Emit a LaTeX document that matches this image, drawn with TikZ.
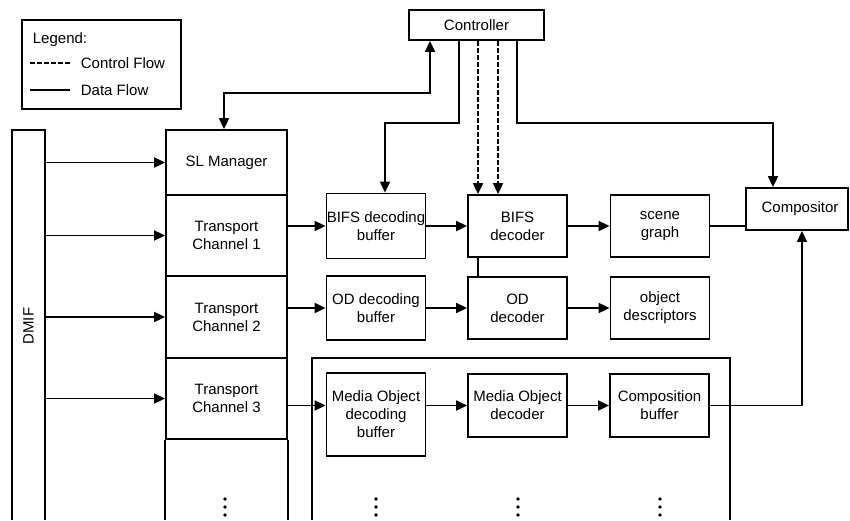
\documentclass[tikz,border=0pt]{standalone}
\usepackage{fontspec}
\setmainfont{Liberation Sans}
\usetikzlibrary{positioning,arrows.meta,calc}

\begin{document}
\begin{tikzpicture}[
  x=0.5pt, y=-0.5pt, line width=0.9pt,
  >={Triangle[length=5.5pt,width=5pt]},
  blk/.style  = {rectangle, draw, inner sep=0pt, align=center,
                 font=\fontsize{7.5}{9}\selectfont},
  col/.style  = {blk, minimum width=49.5pt, minimum height=31pt},
  tc/.style   = {blk, minimum width=60.5pt},
  lbl/.style  = {inner sep=0pt, font=\fontsize{7.5}{9}\selectfont},
  flow/.style = {->},
  ctl/.style  = {dash pattern=on 2.5pt off 1pt}
]
\useasboundingbox (0,0) rectangle (850,520);
\coordinate (btm) at (0,520);

% legend
\node[blk, minimum width=79.5pt, minimum height=44.5pt] (legend) at (101.5,64.5) {};
\node[lbl, anchor=west] (leghd) at (32,40) {Legend:};
\coordinate (lca) at (30,63);
\coordinate (lda) at (30,90);
\draw[ctl] (lca) -- ++(40,0);
\draw (lda) -- ++(40,0);
\node[lbl, anchor=west] (legctl) at (80,63) {Control Flow};
\node[lbl, anchor=west] (legdat) at (80,90) {Data Flow};

% controller
\node[blk, minimum width=67.5pt, minimum height=15pt] (ctrl) at (476.5,25) {Controller};
\path (ctrl.south) ++(-46.5,0) coordinate (cA)
      (ctrl.south) ++(-17.5,0) coordinate (cB)
      (ctrl.south) ++(1.5,0)   coordinate (cC)
      (ctrl.south) ++(21.5,0)  coordinate (cD)
      (ctrl.south) ++(40.5,0)  coordinate (cE);

% DMIF
\coordinate (dmifL) at (12,130);
\coordinate (dmifR) at (45,130);
\draw (dmifL |- btm) -- (dmifL) -- (dmifR) -- (dmifR |- btm);
\node[lbl, rotate=90] (dmif) at (28.5,326) {DMIF};

% SL manager and transport channels
\def\Sx{226.5}
\node[tc, minimum height=32.5pt] (sl)  at (\Sx,162.5) {SL Manager};
\node[tc, minimum height=40.5pt] (tc1) at (\Sx,235.5) {Transport\\Channel 1};
\node[tc, minimum height=41pt]   (tc2) at (\Sx,317)   {Transport\\Channel 2};
\node[tc, minimum height=40.5pt] (tc3) at (\Sx,398.5) {Transport\\Channel 3};
\draw (tc3.south west) -- (tc3.south west |- btm)
      (tc3.south east) -- (tc3.south east |- btm);

% decoding chains
\node[col, minimum height=32.5pt] (bifsbuf) at (376,226)   {BIFS decoding\\buffer};
\node[col]                        (bifsdec) at (517.5,226) {BIFS\\decoder};
\node[col]                        (scene)   at (660,226)   {scene\\graph};
\node[col, minimum height=32pt]   (odbuf)   at (376,308)   {OD decoding\\buffer};
\node[col]                        (oddec)   at (517.5,308) {OD\\decoder};
\node[col]                        (objdesc) at (660,308)   {object\\descriptors};
\node[blk, minimum width=51pt, minimum height=21pt] (comp) at (797,209) {\hspace{3pt}Compositor};

% media object box
\coordinate (moL) at (312,358);
\coordinate (moR) at (730,358);
\draw (moL |- btm) -- (moL) -- (moR) -- (moR |- btm);
\node[col, minimum height=41.5pt] (mobuf)   at (376,414.5)   {Media Object\\decoding\\buffer};
\node[col, minimum height=31.5pt] (modec)   at (517.5,405.5) {Media Object\\decoder};
\node[col, minimum height=31.5pt] (compbuf) at (659.5,405.5) {Composition\\buffer};

% data flow
\foreach \n in {sl,tc1,tc2,tc3}
  \draw[flow] (dmifR |- \n.west) -- (\n.west);
\draw[flow] (tc1.east |- bifsbuf.west) -- (bifsbuf.west);
\draw[flow] (tc2.east |- odbuf.west) -- (odbuf.west);
\draw[flow] (tc3.east |- modec.west) -- (mobuf.west |- modec.west);
\draw[flow] (bifsbuf) -- (bifsdec);
\draw[flow] (bifsdec) -- (scene);
\draw[flow] (odbuf) -- (oddec);
\draw[flow] (oddec) -- (objdesc);
\draw[flow] (mobuf.east |- modec.west) -- (modec.west);
\draw[flow] (modec) -- (compbuf);
\draw (scene.east) -- (scene.east -| comp.west);
\draw[flow] (compbuf.east) -| ([xshift=2.5pt]comp.south);
\draw (cC |- bifsdec.south) -- (cC |- oddec.north);

% control flow
\draw[<->] (cA) -- ++(0,52) -| ([xshift=-1.25pt]sl.north);
\draw[->] (cB) -- ++(0,82) -| ([xshift=4.5pt]bifsbuf.north);
\draw[->, ctl] (cC) -- (cC |- bifsdec.north);
\draw[->, ctl] (cD) -- (cD |- bifsdec.north);
\draw[->] (cE) -- ++(0,82) -| ([xshift=-12pt]comp.north);

% continuation dots
\foreach \x in {225,376,518,660}
  \foreach \y in {499,507,515}
    \fill (\x,\y) circle[radius=0.9pt];
\end{tikzpicture}
\end{document}
